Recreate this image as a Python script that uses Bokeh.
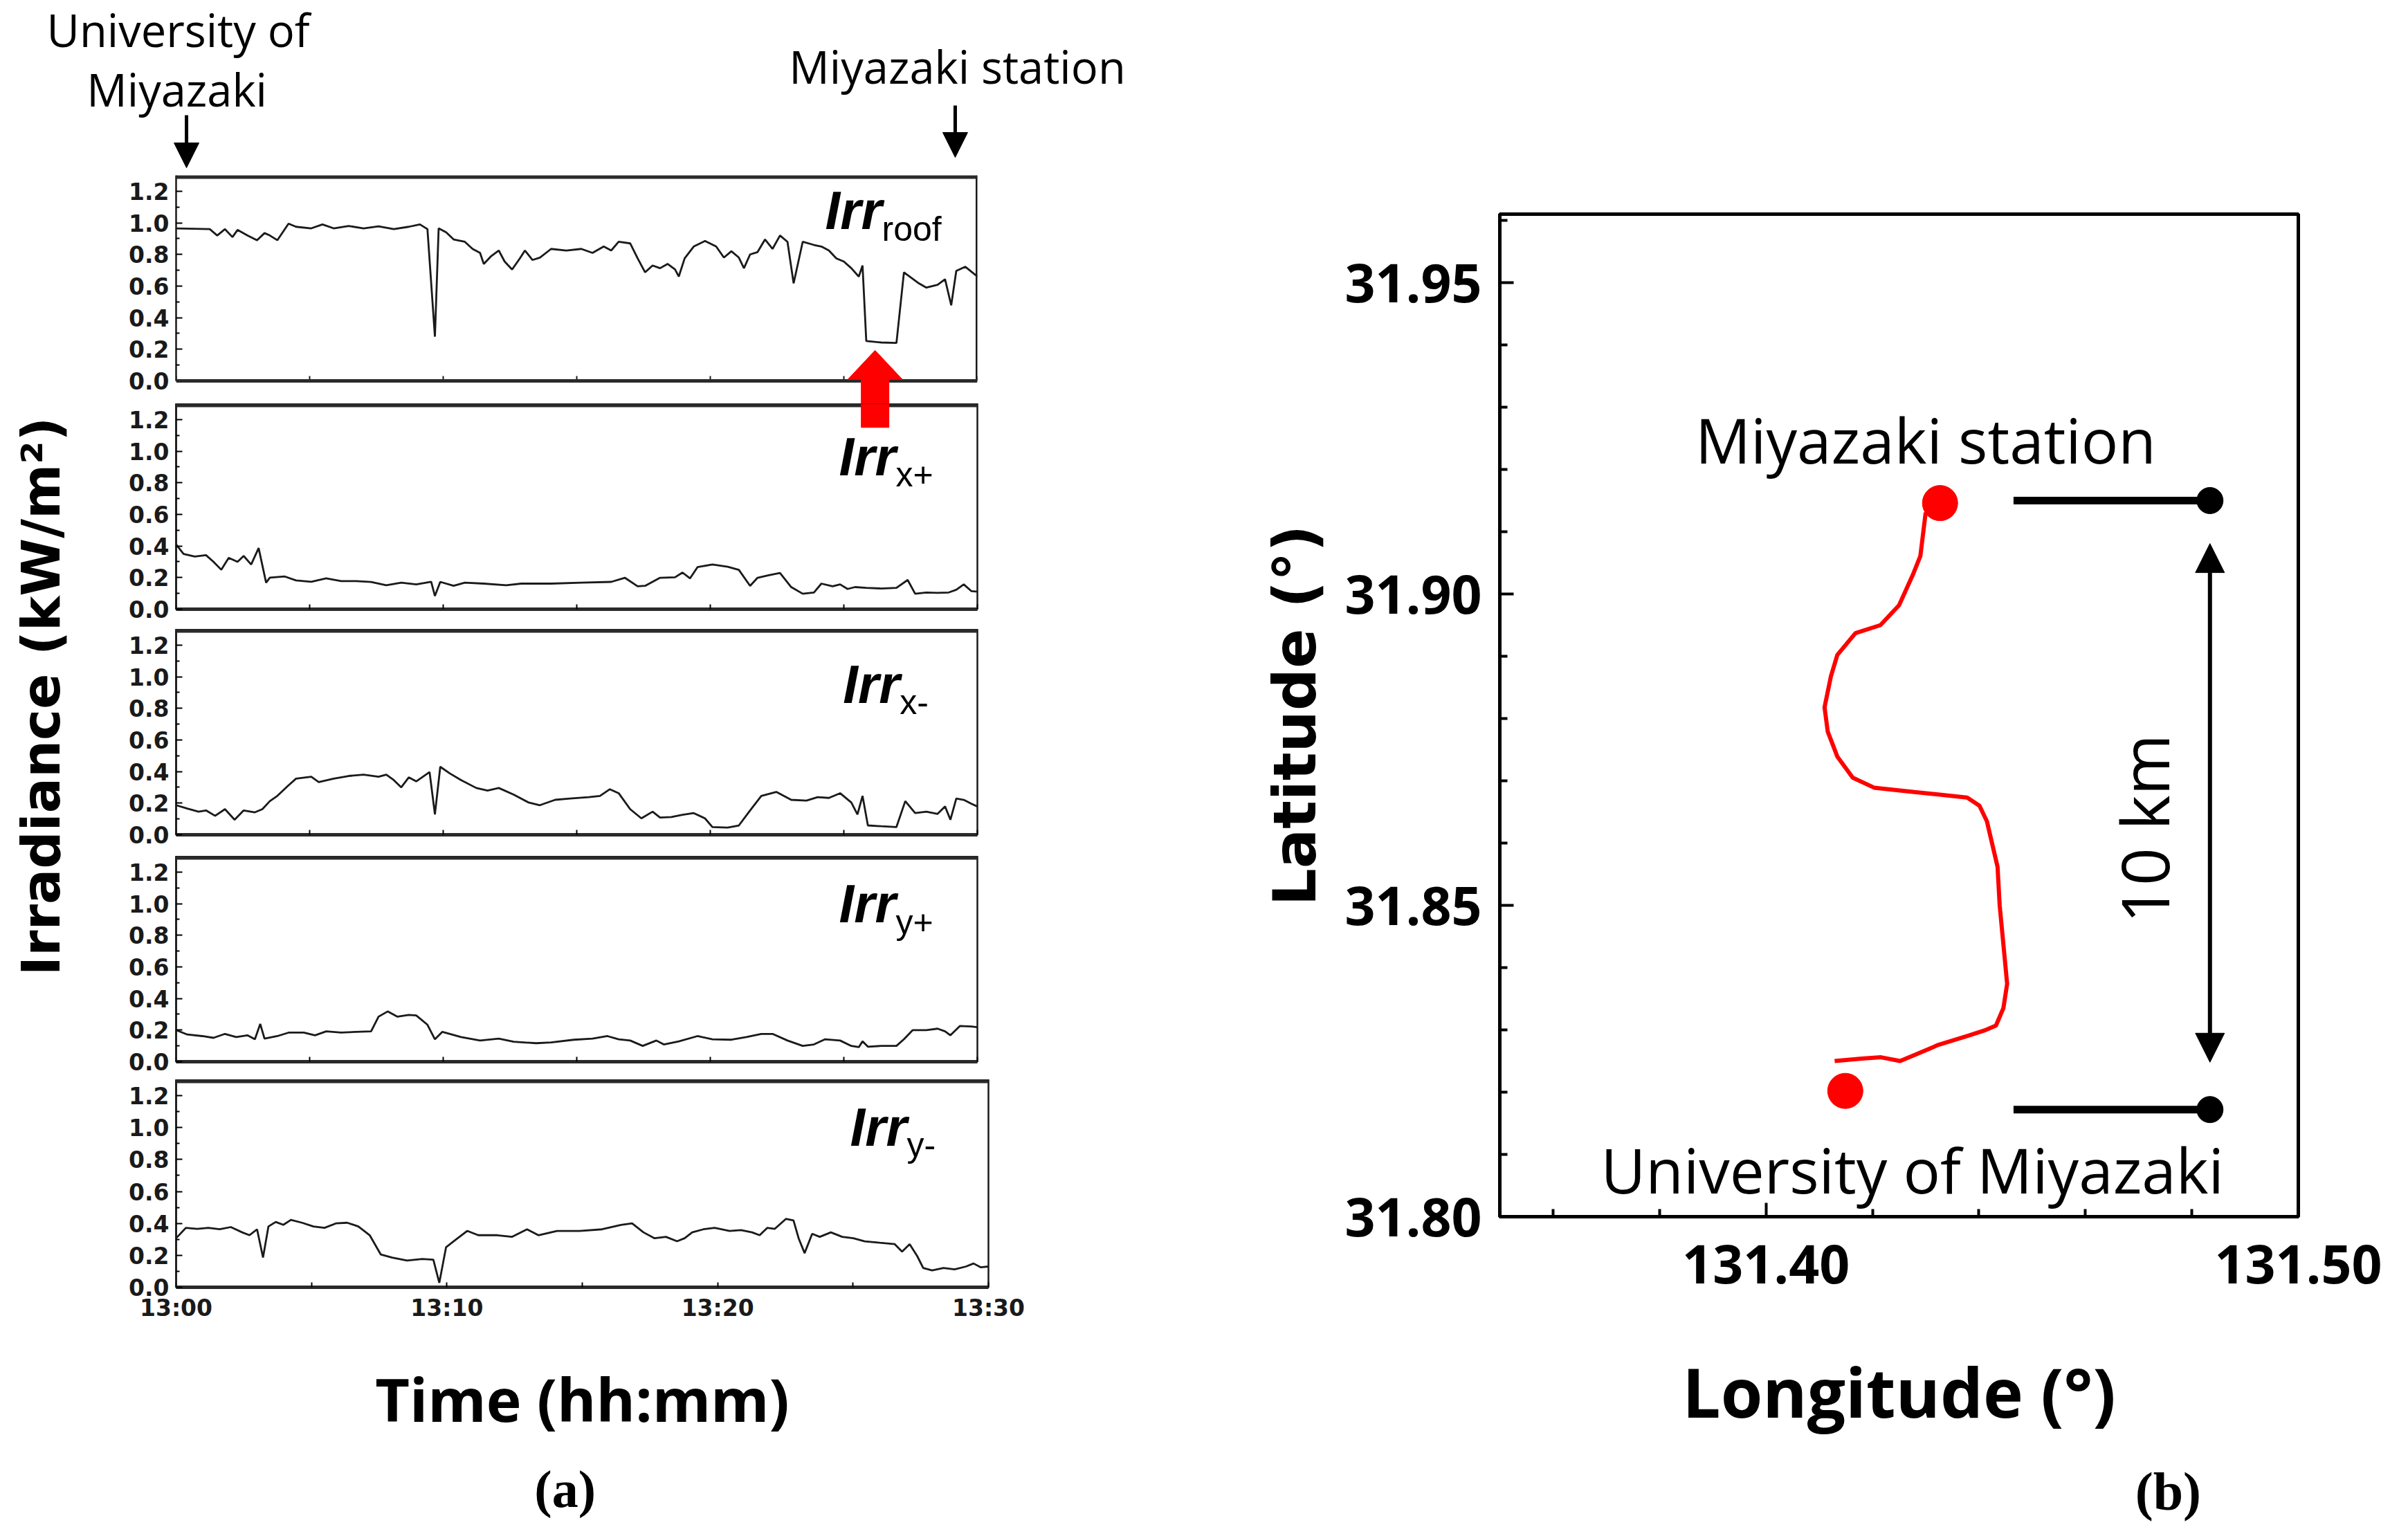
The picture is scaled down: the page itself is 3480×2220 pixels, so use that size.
from bokeh.plotting import figure
from bokeh.models import (Range1d, FixedTicker, PrintfTickFormatter, Arrow, NormalHead,
                          PolyAnnotation, Span)
from bokeh.layouts import row, column
from bokeh.embed import file_html
from bokeh.resources import INLINE
from bokeh.core.properties import value

# ---------------- data: panel (a), time in minutes after 13:00, irradiance kW/m2
t_roof = [0, 1.26, 1.54, 1.83, 2.11, 2.30, 2.67, 3.03, 3.31, 3.51, 3.79, 4.21, 4.49, 5.06, 5.48, 5.90, 6.46,
          7.02, 7.58, 8.15, 8.71, 9.13, 9.41, 9.69, 9.83, 10.11, 10.39, 10.81, 11.10, 11.38, 11.52, 11.80,
          12.08, 12.30, 12.58, 12.87, 13.06, 13.34, 13.62, 14.04, 14.61, 15.17, 15.59, 16.01, 16.29, 16.57,
          17.00, 17.28, 17.56, 17.84, 18.12, 18.40, 18.68, 18.82, 19.04, 19.38, 19.80, 20.22, 20.51, 20.79,
          21.07, 21.26, 21.49, 21.77, 22.05, 22.33, 22.61, 22.89, 23.12, 23.46, 23.88, 24.16, 24.44, 24.72,
          25.00, 25.28, 25.56, 25.70, 25.84, 26.40, 26.97, 27.25, 27.53, 27.81, 28.09, 28.51, 28.79, 29.02,
          29.21, 29.55, 30.0]
irr_roof = [0.965, 0.96, 0.92, 0.96, 0.91, 0.955, 0.92, 0.89, 0.935, 0.92, 0.89, 0.995, 0.975, 0.965, 0.99,
            0.965, 0.98, 0.965, 0.978, 0.96, 0.975, 0.99, 0.96, 0.28, 0.965, 0.94, 0.895, 0.88, 0.835, 0.81,
            0.74, 0.79, 0.825, 0.755, 0.705, 0.775, 0.825, 0.765, 0.78, 0.835, 0.825, 0.835, 0.81, 0.85, 0.825,
            0.88, 0.87, 0.775, 0.687, 0.73, 0.713, 0.74, 0.705, 0.66, 0.775, 0.85, 0.885, 0.85, 0.78, 0.82,
            0.78, 0.713, 0.80, 0.815, 0.895, 0.835, 0.92, 0.88, 0.617, 0.88, 0.86, 0.85, 0.825, 0.775, 0.755,
            0.713, 0.66, 0.73, 0.252, 0.243, 0.24, 0.687, 0.652, 0.617, 0.59, 0.608, 0.643, 0.478, 0.696,
            0.722, 0.66]

t_xp = [0, 0.28, 0.70, 1.12, 1.40, 1.69, 1.97, 2.30, 2.53, 2.81, 3.09, 3.37, 3.51, 4.07, 4.49, 5.06, 5.62,
        6.18, 6.74, 7.30, 7.87, 8.43, 8.99, 9.55, 9.69, 9.89, 10.39, 10.81, 11.52, 12.36, 12.92, 14.04, 15.17,
        16.29, 16.80, 17.28, 17.56, 18.12, 18.68, 18.96, 19.24, 19.52, 20.08, 20.65, 21.07, 21.49, 21.77,
        22.19, 22.61, 23.03, 23.46, 23.88, 24.16, 24.58, 24.86, 25.14, 25.42, 25.84, 26.40, 26.97, 27.39,
        27.67, 28.09, 28.51, 28.93, 29.21, 29.49, 29.78, 30.0]
irr_xp = [0.41, 0.35, 0.333, 0.342, 0.30, 0.25, 0.325, 0.30, 0.337, 0.283, 0.387, 0.168, 0.20, 0.207, 0.182,
          0.173, 0.195, 0.178, 0.178, 0.172, 0.152, 0.168, 0.157, 0.173, 0.084, 0.173, 0.148, 0.168, 0.162,
          0.152, 0.162, 0.162, 0.168, 0.173, 0.199, 0.145, 0.148, 0.199, 0.202, 0.232, 0.195, 0.266, 0.283,
          0.269, 0.249, 0.148, 0.199, 0.215, 0.229, 0.14, 0.098, 0.106, 0.162, 0.145, 0.157, 0.128, 0.14,
          0.135, 0.131, 0.135, 0.185, 0.098, 0.106, 0.103, 0.106, 0.123, 0.157, 0.114, 0.111]

t_xm = [0, 0.42, 0.84, 1.12, 1.46, 1.83, 2.19, 2.53, 2.95, 3.23, 3.51, 3.79, 4.21, 4.49, 5.06, 5.34, 5.90,
        6.46, 7.02, 7.58, 7.87, 8.15, 8.43, 8.71, 8.99, 9.49, 9.69, 9.89, 10.25, 10.67, 11.24, 11.66, 12.08,
        12.64, 13.20, 13.62, 14.19, 14.75, 15.45, 15.87, 16.24, 16.57, 17.00, 17.42, 17.84, 18.12, 18.54,
        18.96, 19.38, 19.80, 20.08, 20.65, 21.07, 21.49, 21.91, 22.47, 23.03, 23.60, 24.02, 24.44, 24.86,
        25.28, 25.51, 25.70, 25.90, 26.40, 26.97, 27.30, 27.67, 28.09, 28.51, 28.79, 28.99, 29.21, 29.49,
        29.78, 30.0]
irr_xm = [0.187, 0.166, 0.146, 0.154, 0.12, 0.162, 0.095, 0.154, 0.142, 0.162, 0.213, 0.246, 0.313, 0.355,
          0.367, 0.333, 0.355, 0.372, 0.38, 0.367, 0.38, 0.346, 0.30, 0.363, 0.338, 0.397, 0.129, 0.43,
          0.388, 0.346, 0.296, 0.28, 0.296, 0.254, 0.204, 0.187, 0.221, 0.229, 0.238, 0.246, 0.288, 0.263,
          0.162, 0.104, 0.146, 0.109, 0.112, 0.126, 0.137, 0.104, 0.049, 0.045, 0.059, 0.154, 0.246, 0.271,
          0.221, 0.216, 0.238, 0.233, 0.263, 0.204, 0.129, 0.246, 0.059, 0.054, 0.049, 0.213, 0.137, 0.146,
          0.132, 0.179, 0.095, 0.229, 0.221, 0.196, 0.179]

t_yp = [0, 0.42, 0.98, 1.40, 1.83, 2.25, 2.67, 2.95, 3.15, 3.31, 3.79, 4.21, 4.78, 5.20, 5.62, 6.18, 6.74,
        7.30, 7.58, 7.92, 8.29, 8.71, 8.99, 9.41, 9.69, 9.97, 10.67, 11.38, 12.08, 12.64, 13.48, 14.04, 14.89,
        15.59, 16.15, 16.57, 17.00, 17.47, 17.98, 18.26, 18.82, 19.52, 20.08, 20.79, 21.35, 21.91, 22.33,
        22.89, 23.46, 23.88, 24.30, 24.86, 25.28, 25.56, 25.70, 25.90, 26.40, 26.97, 27.25, 27.58, 28.09,
        28.51, 28.79, 28.99, 29.35, 29.78, 30.0]
irr_yp = [0.20, 0.172, 0.162, 0.151, 0.176, 0.156, 0.167, 0.142, 0.239, 0.146, 0.162, 0.184, 0.184, 0.167,
          0.192, 0.184, 0.189, 0.192, 0.285, 0.318, 0.285, 0.296, 0.293, 0.234, 0.142, 0.189, 0.156, 0.134,
          0.146, 0.126, 0.117, 0.122, 0.139, 0.146, 0.162, 0.142, 0.134, 0.10, 0.134, 0.109, 0.129, 0.162,
          0.142, 0.139, 0.156, 0.176, 0.176, 0.134, 0.10, 0.109, 0.142, 0.134, 0.10, 0.092, 0.129, 0.095,
          0.10, 0.10, 0.142, 0.20, 0.20, 0.209, 0.192, 0.167, 0.226, 0.223, 0.218]

t_ym = [0, 0.36, 0.78, 1.19, 1.61, 2.02, 2.44, 2.71, 2.99, 3.21, 3.41, 3.68, 3.96, 4.24, 4.65, 5.07, 5.48,
        5.90, 6.32, 6.73, 7.15, 7.56, 7.98, 8.53, 9.09, 9.50, 9.72, 9.97, 10.33, 10.75, 11.16, 11.86, 12.41,
        12.96, 13.38, 14.07, 14.90, 15.73, 16.43, 16.84, 17.26, 17.67, 18.09, 18.50, 18.78, 19.06, 19.47,
        19.89, 20.44, 20.86, 21.27, 21.55, 21.83, 22.11, 22.52, 22.80, 22.99, 23.21, 23.49, 23.77, 24.18,
        24.60, 25.01, 25.43, 25.98, 26.54, 26.81, 27.09, 27.37, 27.59, 27.92, 28.34, 28.75, 29.17, 29.45,
        29.72, 30.0]
irr_ym = [0.307, 0.372, 0.366, 0.372, 0.363, 0.377, 0.344, 0.326, 0.363, 0.186, 0.381, 0.409, 0.391, 0.422,
          0.404, 0.381, 0.372, 0.40, 0.404, 0.381, 0.326, 0.205, 0.186, 0.167, 0.177, 0.173, 0.028, 0.251,
          0.298, 0.353, 0.326, 0.326, 0.316, 0.363, 0.326, 0.353, 0.353, 0.363, 0.391, 0.40, 0.344, 0.307,
          0.316, 0.288, 0.307, 0.344, 0.363, 0.372, 0.353, 0.358, 0.344, 0.326, 0.372, 0.366, 0.428, 0.419,
          0.307, 0.214, 0.335, 0.316, 0.344, 0.316, 0.307, 0.288, 0.279, 0.27, 0.223, 0.27, 0.195, 0.121,
          0.106, 0.121, 0.112, 0.13, 0.149, 0.125, 0.13]

series_t = [t_roof, t_xp, t_xm, t_yp, t_ym]
series_v = [irr_roof, irr_xp, irr_xm, irr_yp, irr_ym]
series_sub = ["roof", "x+", "x-", "y+", "y-"]

time_ticks = [0, 5, 10, 15, 20, 25, 30]
time_labels = {0: "13:00", 10: "13:10", 20: "13:20", 30: "13:30"}
irr_ticks = [0.0, 0.2, 0.4, 0.6, 0.8, 1.0, 1.2]
irr_minor = [0.1, 0.3, 0.5, 0.7, 0.9, 1.1]

# annotation anchors in panel (a)
start_time, end_time = 0.39, 29.17        # trip start / end markers
dropout_time, dropout_val = 26.17, 0.193  # red arrow tip (roof dropout)

# ---------------- data: panel (b), route
route_lon = [131.4300, 131.4290, 131.4276, 131.4250, 131.4215, 131.4168, 131.4134, 131.4122, 131.4110,
             131.4116, 131.4134, 131.4163, 131.4203, 131.4279, 131.4378, 131.4401, 131.4415, 131.4435,
             131.4439, 131.4446, 131.4453, 131.4446, 131.4432, 131.4410, 131.4381, 131.4324, 131.4280,
             131.4252, 131.4216, 131.4180, 131.4129]
route_lat = [31.9131, 31.9061, 31.9031, 31.8982, 31.8950, 31.8937, 31.8902, 31.8868, 31.8818, 31.8779,
             31.8739, 31.8705, 31.8689, 31.8682, 31.8673, 31.8660, 31.8635, 31.8562, 31.8500, 31.8437,
             31.8374, 31.8335, 31.8307, 31.8299, 31.8291, 31.8276, 31.8260, 31.8250, 31.8256, 31.8254,
             31.8250]
station_names = ["Miyazaki station", "University of Miyazaki"]
station_lon = [131.4327, 131.4149]
station_lat = [31.9146, 31.8202]
station_text_lon = [131.4300, 131.4275]
station_text_lat = [31.9248, 31.8076]
bar_lon = [131.4465, 131.4834]
bar_lat = [31.9150, 31.8172]
bar_arrow_lat = [31.9081, 31.8248]
scale_text = "10 km"
scale_text_pos = (131.4709, 31.8623)
lon_ticks = [131.40, 131.50]
lon_minor = [131.36, 131.38, 131.42, 131.44, 131.46, 131.48]
lat_ticks = [31.80, 31.85, 31.90, 31.95]
lat_minor = [31.81, 31.82, 31.83, 31.84, 31.86, 31.87, 31.88, 31.89, 31.91, 31.92, 31.93, 31.94, 31.96]

# ---------------- layout constants (px)
INK = "#1a1a1a"
LEFT_W = 1642          # whole left column
LABEL_W = 120          # strip holding the shared y label
COL_W = LEFT_W - LABEL_W
HEADER_H = 253
FOOTER_H = 94
PX_MIN = 1158 / 30.0   # panels 1-4
PX_VAL = 297 / 1.3
PX_MIN5 = 1174 / 30.0
PX_VAL5 = 300 / 1.3
GAP1 = 33              # gap below panel 1 (kept inside its frame for the red arrow)
bottoms = [0, 29, 31, 26, 250]


def bare(width, height, xr, yr):
    p = figure(frame_width=width, frame_height=height, min_border=0, x_range=xr, y_range=yr,
               x_axis_location=None, y_axis_location=None,
               output_backend="svg", toolbar_location=None, title=None)
    p.grid.visible = False
    p.outline_line_color = None
    p.background_fill_color = "white"
    p.border_fill_color = "white"
    return p


def make_panel(k):
    if k == 4:
        fw, fh, bl = 1174, 300, 252 - 8 - LABEL_W
        pxm, pxv = PX_MIN5, PX_VAL5
    else:
        fw, fh, bl = 1158, 297, 262 - 8 - LABEL_W
        pxm, pxv = PX_MIN, PX_VAL
    extra = GAP1 if k == 0 else 0
    ylo = -extra / pxv
    p = figure(frame_width=fw, frame_height=fh + extra, min_border_left=bl, min_border_right=COL_W - bl - fw,
               min_border_top=0, min_border_bottom=bottoms[k],
               x_range=Range1d(0, 30), y_range=Range1d(ylo, 1.3),
               output_backend="svg", toolbar_location=None, title=None)
    p.grid.visible = False
    p.background_fill_color = "white"
    p.border_fill_color = "white"

    ya = p.yaxis[0]
    ya.ticker = FixedTicker(ticks=irr_ticks, minor_ticks=irr_minor)
    ya.formatter = PrintfTickFormatter(format="%.1f")
    ya.major_tick_in, ya.major_tick_out = 9, 0
    ya.minor_tick_in, ya.minor_tick_out = 5, 0
    ya.major_tick_line_width = 2
    ya.minor_tick_line_width = 2
    ya.axis_line_width = 2.5
    ya.axis_line_color = INK
    ya.major_label_text_font = "DejaVu Sans"
    ya.major_label_text_font_style = "bold"
    ya.major_label_text_font_size = "33px"
    ya.major_label_text_color = INK
    ya.major_label_standoff = 10

    xa = p.xaxis[0]
    if k == 0:
        # panel 1 frame also holds the gap below it, so its box is drawn from the scales
        p.outline_line_color = None
        ya.bounds = (0, 1.3)
        xa.visible = False
        p.add_layout(Span(location=0, dimension="width", line_color="#2a2a2a", line_width=5))
        p.segment(x0=time_ticks, y0=[0] * len(time_ticks), x1=time_ticks, y1=[7 / pxv] * len(time_ticks),
                  line_color=INK, line_width=2)
        p.segment(x0=[30], y0=[0], x1=[30], y1=[1.3], line_color=INK, line_width=5)
    else:
        p.outline_line_color = INK
        p.outline_line_width = 2.5
        xa.ticker = FixedTicker(ticks=time_ticks)
        xa.major_tick_in, xa.major_tick_out = 7, 0
        xa.major_tick_line_width = 2
        xa.minor_tick_line_color = None
        xa.axis_line_width = 5
        xa.axis_line_color = "#2a2a2a"
        if k == 4:
            xa.major_label_overrides = {t: time_labels.get(t, "") for t in time_ticks}
            xa.major_label_text_font = "DejaVu Sans"
            xa.major_label_text_font_style = "bold"
            xa.major_label_text_font_size = "33px"
            xa.major_label_text_color = INK
            xa.major_label_standoff = 10
            xa.axis_label = "Time (hh:mm)"
            xa.axis_label_text_font = "Open Sans"
            xa.axis_label_text_font_style = "bold"
            xa.axis_label_text_font_size = "86px"
            xa.axis_label_text_color = "black"
            xa.axis_label_standoff = 50
        else:
            xa.major_label_overrides = {t: "" for t in time_ticks}
            xa.major_label_text_font_size = "1px"
            xa.major_label_standoff = 0

    p.add_layout(Span(location=1.3, dimension="width", line_color="#2a2a2a", line_width=10))

    p.line(series_t[k], series_v[k], line_color=INK, line_width=2.8)

    # panel name: bold-italic "Irr" with subscript (anchored at the text middle)
    main_x = [24.30, 24.82, 24.97, 24.82, 24.89][k]
    main_y = [0.959, 0.849, 0.836, 0.880, 0.888][k]
    p.text(x=[main_x], y=[main_y + 27 / pxv], text=["Irr"], text_font=value("Liberation Sans"),
           text_font_style="bold italic", text_font_size="78px", text_color="black",
           text_baseline="middle", text_align="left")
    p.text(x=[main_x + 82 / pxm], y=[main_y + (17.4 - 17) / pxv], text=[series_sub[k]],
           text_font=value("Liberation Sans"), text_font_size="50px", text_color="black",
           text_baseline="middle", text_align="left")
    return p


panels = [make_panel(k) for k in range(5)]
p1, p2 = panels[0], panels[1]

# red arrow pointing at the roof dropout; it runs across the gap into the second panel
hw, hl, sw = 79 / 2.0, 42.0, 20.0
tx, ty = dropout_time, dropout_val
base = ty - hl / PX_VAL
y_low = -(GAP1 + 5) / PX_VAL
p1.add_layout(PolyAnnotation(
    xs=[tx, tx + hw / PX_MIN, tx + sw / PX_MIN, tx + sw / PX_MIN, tx - sw / PX_MIN, tx - sw / PX_MIN,
        tx - hw / PX_MIN],
    ys=[ty, base, base, y_low, y_low, base, base],
    fill_color="#ff0000", fill_alpha=1.0, line_color="#ff0000", line_alpha=1.0, line_width=1))
y_tail = 1.15
p2.add_layout(PolyAnnotation(
    xs=[tx - sw / PX_MIN, tx + sw / PX_MIN, tx + sw / PX_MIN, tx - sw / PX_MIN],
    ys=[1.36, 1.36, y_tail, y_tail],
    fill_color="#ff0000", fill_alpha=1.0, line_color="#ff0000", line_alpha=1.0, line_width=1))

# header above panel 1 (shares panel-1 time and value scales)
hx0 = (8 - 262) / PX_MIN
hx1 = (8 + LEFT_W - 262) / PX_MIN
header = bare(LEFT_W, HEADER_H, Range1d(hx0, hx1), Range1d(1.3, 1.3 + HEADER_H / PX_VAL))
header.text(x=[start_time - 0.31, start_time - 0.36, end_time + 0.08], y=[2.222, 1.845, 1.990],
            text=["University of", "Miyazaki", "Miyazaki station"], text_font=value("Open Sans"),
            text_font_size="65px", text_color="black", text_align="center", text_baseline="middle")
for x, y0, y1 in [(start_time, 1.681, 1.348), (end_time, 1.742, 1.414)]:
    header.add_layout(Arrow(end=NormalHead(size=36, fill_color="black", line_color="black", line_width=1),
                            x_start=x, y_start=y0, x_end=x, y_end=y1, line_width=5, line_color="black"))

# strip with the shared y label (shares panel-3 value scale)
col_h = sum((297 if k < 4 else 300) + (GAP1 if k == 0 else 0) + bottoms[k] for k in range(5))
p3_bottom = 1214 - 261   # panel-3 zero line, px below the strip top
lab_y1 = p3_bottom / PX_VAL
lab_y0 = lab_y1 - col_h / PX_VAL
strip = bare(LABEL_W, col_h, Range1d(hx0, hx0 + LABEL_W / PX_MIN), Range1d(lab_y0, lab_y1))
strip.text(x=[(67 - 262) / PX_MIN], y=[0.875], text=["Irradiance (kW/m\u00b2)"], angle=1.5707963,
           text_font=value("DejaVu Sans"), text_font_style="bold", text_font_size="76px",
           text_color="black", text_align="center", text_baseline="middle")

# footer with "(a)" (shares panel-5 time scale)
fx0 = (8 - 252) / PX_MIN5
footer_a = bare(LEFT_W, FOOTER_H, Range1d(fx0, fx0 + LEFT_W / PX_MIN5), Range1d(-1.4907, -1.0833))
footer_a.text(x=[14.62], y=[-1.261], text=["(a)"], text_font=value("Liberation Serif"),
              text_font_style="bold", text_font_size="76px", text_color="black",
              text_align="center", text_baseline="middle")

left_col = column(header, row(strip, column(*panels, spacing=0), spacing=0), footer_a, spacing=0)

# ---------------- panel (b)
RIGHT_W = 3464 - LEFT_W
pb = figure(frame_width=1154, frame_height=1449, min_border_left=525, min_border_right=RIGHT_W - 525 - 1154,
            min_border_top=309, min_border_bottom=352,
            x_range=Range1d(131.35, 131.50), y_range=Range1d(31.80, 31.961),
            output_backend="svg", toolbar_location=None, title=None)
pb.grid.visible = False
pb.background_fill_color = "white"
pb.border_fill_color = "white"
pb.outline_line_color = "black"
pb.outline_line_width = 5

for ax, ticks, minor in [(pb.xaxis[0], lon_ticks, lon_minor), (pb.yaxis[0], lat_ticks, lat_minor)]:
    ax.ticker = FixedTicker(ticks=ticks, minor_ticks=minor)
    ax.formatter = PrintfTickFormatter(format="%.2f")
    ax.major_tick_in, ax.major_tick_out = 20, 0
    ax.minor_tick_in, ax.minor_tick_out = 11, 0
    ax.major_tick_line_width = 4
    ax.minor_tick_line_width = 4
    ax.axis_line_width = 5
    ax.axis_line_color = "black"
    ax.major_label_text_font = "Open Sans"
    ax.major_label_text_font_style = "bold"
    ax.major_label_text_font_size = "77px"
    ax.major_label_text_color = "black"
    ax.axis_label_text_font_style = "bold"
    ax.axis_label_text_color = "black"

xb = pb.xaxis[0]
xb.major_label_standoff = 40
xb.axis_label = "Longitude (\u00b0)"
xb.axis_label_text_font = "Open Sans"
xb.axis_label_text_font_size = "98px"
xb.axis_label_standoff = 86

yb = pb.yaxis[0]
yb.major_label_standoff = 26
yb.axis_label = "Latitude (\u00b0)"
yb.axis_label_text_font = "DejaVu Sans"
yb.axis_label_text_font_size = "85px"
yb.axis_label_standoff = 19

pb.line(route_lon, route_lat, line_color="#ff0000", line_width=6)
pb.scatter(station_lon, station_lat, size=51, fill_color="#ff0000", line_color="#ff0000")
pb.segment(x0=[bar_lon[0], bar_lon[0]], y0=bar_lat, x1=[bar_lon[1], bar_lon[1]], y1=bar_lat,
           line_color="black", line_width=11)
pb.scatter([bar_lon[1], bar_lon[1]], bar_lat, size=38, fill_color="black", line_color="black")
pb.add_layout(Arrow(start=NormalHead(size=42, fill_color="black", line_color="black", line_width=1),
                    end=NormalHead(size=42, fill_color="black", line_color="black", line_width=1),
                    x_start=bar_lon[1], y_start=bar_arrow_lat[0], x_end=bar_lon[1], y_end=bar_arrow_lat[1],
                    line_width=6, line_color="black"))
pb.text(x=station_text_lon, y=station_text_lat, text=station_names, text_font=value("Open Sans"),
        text_font_size="89px", text_color="black", text_align="center", text_baseline="middle")
pb.text(x=[scale_text_pos[0]], y=[scale_text_pos[1]], text=[scale_text], angle=1.5707963,
        text_font=value("Open Sans"), text_font_size="96px", text_color="black",
        text_align="center", text_baseline="middle")

# footer with "(b)" (shares the panel-(b) scales)
PX_LON = 1154 / 0.15
PX_LAT = 1449 / 0.161
bx0 = 131.35 - 525 / PX_LON
footer_b = bare(RIGHT_W, FOOTER_H, Range1d(bx0, bx0 + RIGHT_W / PX_LON),
                Range1d(31.80 - (2212 - 1766) / PX_LAT, 31.80 - (2118 - 1766) / PX_LAT))
footer_b.text(x=[131.4073], y=[31.7559], text=["(b)"], text_font=value("Liberation Serif"),
              text_font_style="bold", text_font_size="78px", text_color="black",
              text_align="center", text_baseline="middle")

right_col = column(pb, footer_b, spacing=0)
layout = row(left_col, right_col, spacing=0)

open("out.html", "w").write(file_html(layout, INLINE))
